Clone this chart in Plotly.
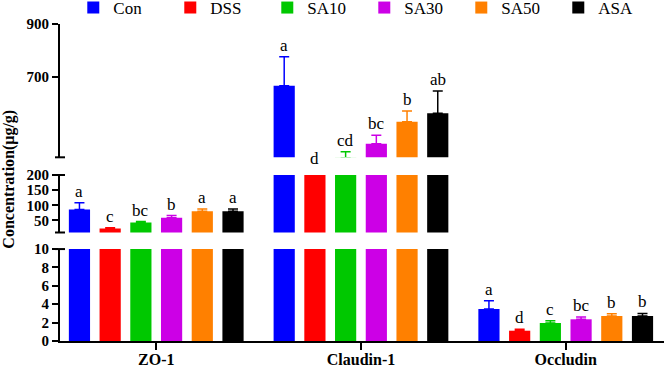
import plotly.graph_objects as go

categories = ["ZO-1", "Claudin-1", "Occludin"]
groups = ["Con", "DSS", "SA10", "SA30", "SA50", "ASA"]
colors = ["#0000FF", "#FF0000", "#00C800", "#CC00E6", "#FF8000", "#000000"]

con = [86, 666, 3.48]
dss = [23, 330, 1.12]
sa10 = [43, 392, 1.96]
sa30 = [59, 445, 2.36]
sa50 = [80, 529, 2.72]
asa = [80, 561, 2.72]

con_err = [22, 110, 0.90]
dss_err = [3, 15, 0.15]
sa10_err = [3, 23, 0.24]
sa30_err = [7, 33, 0.25]
sa50_err = [8, 41, 0.25]
asa_err = [8, 85, 0.28]

con_sig = ["a", "a", "a"]
dss_sig = ["c", "d", "d"]
sa10_sig = ["bc", "cd", "c"]
sa30_sig = ["b", "bc", "bc"]
sa50_sig = ["a", "b", "b"]
asa_sig = ["a", "ab", "b"]

values = [con, dss, sa10, sa30, sa50, asa]
errors = [con_err, dss_err, sa10_err, sa30_err, sa50_err, asa_err]
sigs = [con_sig, dss_sig, sa10_sig, sa30_sig, sa50_sig, asa_sig]

# broken axis segments: (axis name, domain, range)
W, H = 664, 368
ML, MR, MT, MB = 60, 0, 24, 27
plot_h = H - MT - MB
seg_bottom = ("y", [0.0, 0.290], [0, 10])
seg_mid = ("y2", [0.3423, 0.5237], [10, 200])
seg_top = ("y3", [0.5795, 1.0], [394, 900])
segments = [seg_bottom, seg_mid, seg_top]
# which segment holds the labels of each category
cat_seg = [seg_mid, seg_top, seg_bottom]

serif = "Liberation Serif, Times New Roman, serif"
bargap = 0.1
n = len(groups)
slot = (1 - bargap) / n
x = list(range(len(categories)))

fig = go.Figure()
for gi, g in enumerate(groups):
    for si, (yname, dom, rng) in enumerate(segments):
        fig.add_trace(go.Bar(
            x=x, y=values[gi], name=g, yaxis=yname,
            marker=dict(color=colors[gi], line=dict(width=0)),
            legendgroup=g, showlegend=(si == 0),
            offsetgroup=g,
            error_y=dict(type="data", array=errors[gi],
                         arrayminus=[0] * len(categories), symmetric=False,
                         color=colors[gi], thickness=1.5, width=5),
        ))

annotations = []
for gi in range(n):
    for ci in range(len(categories)):
        yname, dom, rng = cat_seg[ci]
        top = values[gi][ci] + errors[gi][ci]
        px_per_unit = (dom[1] - dom[0]) * plot_h / (rng[1] - rng[0])
        yval, yshift = top, 0
        if top < rng[0]:
            yval = rng[0]
            yshift = -(rng[0] - top) * px_per_unit
        annotations.append(dict(
            x=ci + (gi - (n - 1) / 2) * slot, y=yval, xref="x", yref=yname,
            text=sigs[gi][ci], showarrow=False, yanchor="bottom",
            yshift=yshift, font=dict(family=serif, size=17, color="black"),
        ))

annotations.append(dict(
    x=0, xref="paper", xanchor="center", xshift=-51, y=0.509, yref="paper",
    text="<b>Concentration(μg/g)</b>", textangle=-90, showarrow=False,
    font=dict(family=serif, size=16, color="black"),
))

shapes = []
for yref, yy in [("y domain", 1), ("y2 domain", 0), ("y2 domain", 1), ("y3 domain", 0)]:
    shapes.append(dict(type="line", xref="paper", xsizemode="pixel", xanchor=0,
                       x0=-5, x1=5, yref=yref, y0=yy, y1=yy,
                       line=dict(color="black", width=2)))

axis_common = dict(showline=True, linecolor="black", linewidth=2, ticks="outside",
                   ticklen=6, tickwidth=2, tickcolor="black", showgrid=False,
                   zeroline=False,
                   tickfont=dict(family=serif, size=15, color="black", weight="bold"))

fig.update_layout(
    width=W, height=H,
    margin=dict(l=ML, r=MR, t=MT, b=MB, autoexpand=False),
    paper_bgcolor="white", plot_bgcolor="white",
    barmode="group", bargap=bargap, bargroupgap=0.31,
    xaxis=dict(range=[-0.47, 2.48], tickvals=x, ticktext=categories,
               ticklabelstandoff=-4,
               **{**axis_common, "ticklen": 7,
                  "tickfont": dict(family=serif, size=16, color="black", weight="bold")}),
    yaxis=dict(domain=seg_bottom[1], range=seg_bottom[2], tickvals=[0, 2, 4, 6, 8, 10],
               anchor="x", **axis_common),
    yaxis2=dict(domain=seg_mid[1], range=seg_mid[2], tickvals=[50, 100, 150, 200],
                anchor="x", **axis_common),
    yaxis3=dict(domain=seg_top[1], range=seg_top[2], tickvals=[700, 900],
                anchor="x", **axis_common),
    legend=dict(orientation="h", x=0.022, xref="paper", xanchor="left",
                y=1 + 16 / plot_h, yref="paper", yanchor="middle",
                entrywidth=52, entrywidthmode="pixels",
                font=dict(family=serif, size=17, color="black"),
                bgcolor="rgba(0,0,0,0)"),
    annotations=annotations,
    shapes=shapes,
)

fig.write_html("out.html", config={"displayModeBar": False},
               post_script="document.body.style.margin='0';")
